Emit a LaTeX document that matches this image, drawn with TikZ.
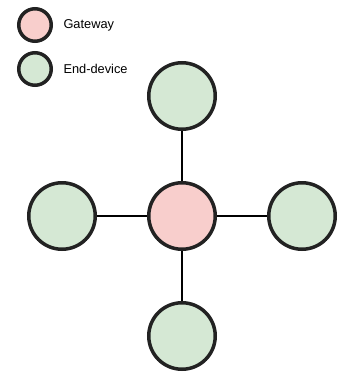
\documentclass[tikz,border=0pt]{standalone}
\usepackage{fontspec}
\setmainfont{Liberation Sans}
\definecolor{GatewayPink}{HTML}{F8CECC}
\definecolor{DeviceGreen}{HTML}{D5E8D4}
\definecolor{RimGrey}{HTML}{222222}
\usetikzlibrary{positioning}

\begin{document}
\begin{tikzpicture}[
            x=1pt, y=1pt,
            node distance=50pt,
            gateway/.style={circle, draw=RimGrey, line width=3.5pt, fill=GatewayPink,
                            minimum size=66.5pt, inner sep=0pt},
            device/.style={circle, draw=RimGrey, line width=3.5pt, fill=DeviceGreen,
                           minimum size=66.5pt, inner sep=0pt},
            keydot/.style={circle, draw=RimGrey, line width=3.5pt, minimum size=32.5pt, inner sep=0pt},
            keytext/.style={right=7pt, font=\fontsize{12.8}{15}\selectfont},
            link/.style={line width=1.5pt, black}
        ]
            \useasboundingbox (0,0) rectangle (338,-372);

            % legend
            \node[keydot, fill=GatewayPink] (keygw) at (35,-25) {};
            \node[keytext] (keygwtext) at (keygw.east) {Gateway};
            \node[keydot, fill=DeviceGreen] (keyed) at (35,-69) {};
            \node[keytext] (keyedtext) at (keyed.east) {End-device};

            % star
            \node[gateway] (gw) at (182,-216) {};
            \node[device, above=of gw] (north) {};
            \node[device, below=of gw] (south) {};
            \node[device, left=of gw] (west) {};
            \node[device, right=of gw] (east) {};

            \draw[link] (gw) -- (north);
            \draw[link] (gw) -- (south);
            \draw[link] (gw) -- (west);
            \draw[link] (gw) -- (east);
        \end{tikzpicture}
\end{document}
